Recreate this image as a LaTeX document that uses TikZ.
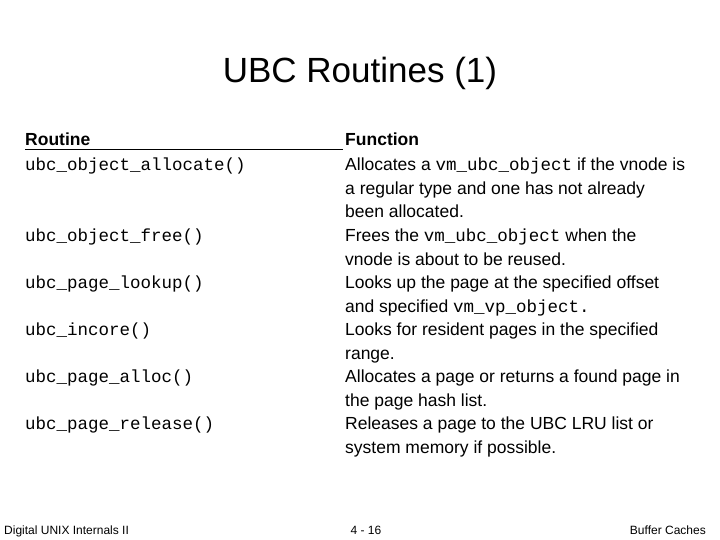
\documentclass[tikz,border=0pt]{standalone}
\usepackage{fontspec}
\setmainfont{Liberation Sans}
\setmonofont{Liberation Mono}
\begin{document}
\begin{tikzpicture}[x=1pt,y=-1pt,
  txt/.style={anchor=base west,inner sep=0pt,font=\fontsize{17.5}{20}\selectfont},
  foot/.style={anchor=base,inner sep=0pt,font=\fontsize{12}{14}\selectfont}]
\useasboundingbox (0,0) rectangle (720,540);
\node[inner sep=0pt,anchor=base,font=\fontsize{35}{40}\selectfont] (title) at (360,83) {UBC Routines (1)};
\node[txt,font=\fontsize{17.5}{20}\selectfont\bfseries] (hr) at (25,146) {Routine};
\node[txt,font=\fontsize{17.5}{20}\selectfont\bfseries] (hf) at (345,146) {Function};
\draw[line width=0.9pt] (25,149) -- (343,149);
\foreach \t [count=\i] in {\texttt{ubc\_object\_allocate()},,,\texttt{ubc\_object\_free()},,\texttt{ubc\_page\_lookup()},,\texttt{ubc\_incore()},,\texttt{ubc\_page\_alloc()},,\texttt{ubc\_page\_release()},}
  \node[txt] (l\i) at (25,{171+23.5*(\i-1)}) {\t};
\foreach \t [count=\i] in {Allocates a \texttt{vm\_ubc\_object} if the vnode is,a regular type and one has not already,been allocated.,Frees the \texttt{vm\_ubc\_object} when the,vnode is about to be reused.,Looks up the page at the specified offset,and specified \texttt{vm\_vp\_object.},Looks for resident pages in the specified,range.,Allocates a page or returns a found page in,the page hash list.,Releases a page to the UBC LRU list or,system memory if possible.}
  \node[txt] (r\i) at (345,{171+23.5*(\i-1)}) {\t};
\node[foot,anchor=base west] (f1) at (4,534) {Digital UNIX Internals II};
\node[foot] (f2) at (366,534) {4 - 16};
\node[foot,anchor=base east] (f3) at (706,534) {Buffer Caches};
\end{tikzpicture}
\end{document}
